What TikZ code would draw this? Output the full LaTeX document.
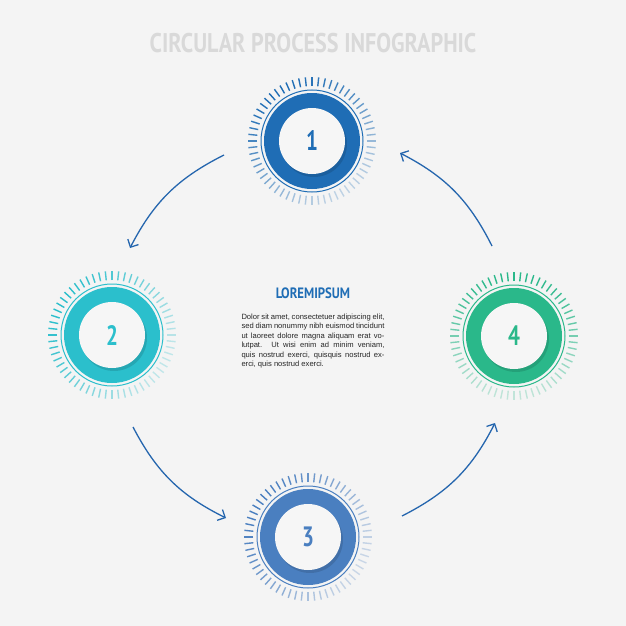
\documentclass[tikz,border=0pt]{standalone}
\usepackage{fontspec}
\setmainfont{Liberation Sans}
\newfontfamily\cond{PT Sans}
\usetikzlibrary{arrows.meta}
\definecolor{bg}{HTML}{F4F4F4}
\definecolor{cA}{HTML}{1F6DB5}
\definecolor{cB}{HTML}{2BBFCC}
\definecolor{cC}{HTML}{4A7FC0}
\definecolor{cD}{HTML}{2AB88A}
\definecolor{arr}{HTML}{2566AE}
\tikzset{
 flow/.style={arr,line width=1.3pt,-{Straight Barb[length=6pt,width=12pt,line width=1.3pt]}},
 numtxt/.style={font=\cond\bfseries\fontsize{28}{28}\selectfont},
}
\newcommand{\stepcirc}[4]{% x, y, color, a0
 \begin{scope}[shift={(#1,#2)}]
  \foreach \a in {0,6,...,354}{
   \pgfmathsetmacro{\op}{0.25+0.75*(1+cos(\a-#4))/2}
   \draw[#3,line width=1.4pt,opacity=\op] (\a:55) -- (\a:64);
  }
  \draw[#3,line width=1pt] (0,0) circle (51);
  \fill[#3] (0,0) circle (48);
  \fill[black,opacity=0.12] (2,3) circle (33);
  \fill[white!93!gray] (0,0) circle (33);
 \end{scope}
}
\begin{document}
\begin{tikzpicture}[x=1pt,y=-1pt]
\fill[bg] (0,0) rectangle (626,626);
\useasboundingbox (0,0) rectangle (626,626);
\node[text=gray!30,font=\cond\bfseries\fontsize{27}{27}\selectfont] (title) at (313,43) {\scalebox{0.82}[1]{CIRCULAR PROCESS INFOGRAPHIC}};
\stepcirc{312}{141}{cA}{-120}
\stepcirc{112}{335}{cB}{-150}
\stepcirc{308}{537}{cC}{-150}
\stepcirc{514}{336}{cD}{-90}
\node[numtxt,text=cA] (n1) at (312,141) {\scalebox{0.75}[1]{1}};
\node[numtxt,text=cB] (n2) at (112,335) {\scalebox{0.75}[1]{2}};
\node[numtxt,text=cC] (n3) at (308,537) {\scalebox{0.75}[1]{3}};
\node[numtxt,text=cD] (n4) at (514,336) {\scalebox{0.75}[1]{4}};
\node[text=cA,font=\cond\bfseries\fontsize{15}{15}\selectfont] (head) at (313,293) {\scalebox{0.85}[1]{LOREMIPSUM}};
\node[font=\fontsize{7.6}{9.4}\selectfont,text width=143pt,align=justify,text=black!85] (body) at (313,341) {\hyphenpenalty=10000\exhyphenpenalty=10000 Dolor sit amet, consectetuer adipiscing elit, sed diam nonummy nibh euismod tincidunt ut laoreet dolore magna aliquam erat volutpat. Ut wisi enim ad minim veniam, quis nostrud exerci, quisquis nostrud exerci, quis nostrud exerci.};
\coordinate (a1s) at (224,155); \coordinate (a1e) at (130,248);
\coordinate (a2s) at (133,427); \coordinate (a2e) at (226,518);
\coordinate (a3s) at (402,516); \coordinate (a3e) at (495,423);
\coordinate (a4s) at (492,246); \coordinate (a4e) at (400,153);
\draw[flow] (a1s) to[bend right=18] (a1e);
\draw[flow] (a2s) to[bend right=18] (a2e);
\draw[flow] (a3s) to[bend right=18] (a3e);
\draw[flow] (a4s) to[bend right=18] (a4e);
\end{tikzpicture}
\end{document}
